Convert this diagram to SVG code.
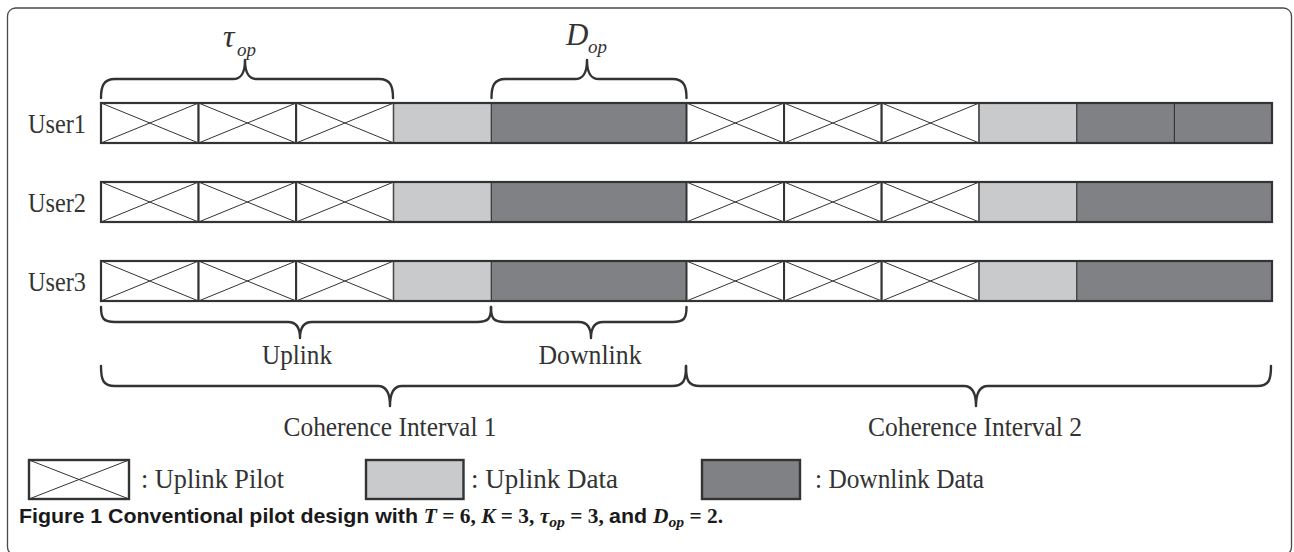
<svg xmlns="http://www.w3.org/2000/svg" xmlns:xlink="http://www.w3.org/1999/xlink" width="1294" height="552" viewBox="0 0 1294 552">
  <style>
    .frame { fill: #ffffff; stroke: #4a4a4a; stroke-width: 1.3; }
    .lbl { font-family: "Liberation Serif", "Times New Roman", serif; font-size: 27.5px; fill: #333333; }
    .math { font-family: "Liberation Serif", "Times New Roman", serif; font-style: italic; fill: #333333; }
    .cap { font-family: "Liberation Sans", Arial, sans-serif; font-weight: bold; font-size: 20.5px; fill: #1a1a1a; }
    .capm { font-family: "Liberation Serif", "Times New Roman", serif; font-weight: bold; }
    .brace { fill: none; stroke: #333333; stroke-width: 2.4; stroke-linecap: round; stroke-linejoin: round; }
    .pilot { fill: #ffffff; stroke: #333333; stroke-width: 2; }
    .xline { stroke: #333333; stroke-width: 1; }
    .ul { fill: #c9cacc; stroke: #444444; stroke-width: 1; }
    .dl { fill: #808184; stroke: #333333; stroke-width: 1; }
    .rowline { fill: none; stroke: #333333; stroke-width: 2.2; }
    .legbox { stroke: #333333; stroke-width: 2.4; }
  </style>
  <defs>
    <!-- one pilot slot: white cell crossed by two diagonals -->
    <g id="pilotCell">
      <rect class="pilot" x="0" y="0" width="97.58" height="40"/>
      <line class="xline" x1="0" y1="0" x2="97.58" y2="40"/>
      <line class="xline" x1="0" y1="40" x2="97.58" y2="0"/>
    </g>
  </defs>

  <rect class="frame" x="7.5" y="8" width="1284" height="547" rx="8"/>

  <!-- User1: pilots, uplink data, downlink x2 | pilots, uplink data, downlink, downlink -->
  <g id="user1">
    <text class="lbl" x="28" y="133" textLength="58" lengthAdjust="spacingAndGlyphs">User1</text>
    <use xlink:href="#pilotCell" x="101" y="103"/>
    <use xlink:href="#pilotCell" x="198.58" y="103"/>
    <use xlink:href="#pilotCell" x="296.17" y="103"/>
    <rect class="ul" x="393.75" y="103" width="97.58" height="40"/>
    <rect class="dl" x="491.33" y="103" width="195.17" height="40"/>
    <use xlink:href="#pilotCell" x="686.5" y="103"/>
    <use xlink:href="#pilotCell" x="784.08" y="103"/>
    <use xlink:href="#pilotCell" x="881.67" y="103"/>
    <rect class="ul" x="979.25" y="103" width="97.58" height="40"/>
    <rect class="dl" x="1076.83" y="103" width="97.58" height="40"/>
    <rect class="dl" x="1174.42" y="103" width="97.58" height="40"/>
    <rect class="rowline" x="101" y="103" width="1171" height="40"/>
  </g>

  <g id="user2">
    <text class="lbl" x="28" y="212" textLength="58" lengthAdjust="spacingAndGlyphs">User2</text>
    <use xlink:href="#pilotCell" x="101" y="182"/>
    <use xlink:href="#pilotCell" x="198.58" y="182"/>
    <use xlink:href="#pilotCell" x="296.17" y="182"/>
    <rect class="ul" x="393.75" y="182" width="97.58" height="40"/>
    <rect class="dl" x="491.33" y="182" width="195.17" height="40"/>
    <use xlink:href="#pilotCell" x="686.5" y="182"/>
    <use xlink:href="#pilotCell" x="784.08" y="182"/>
    <use xlink:href="#pilotCell" x="881.67" y="182"/>
    <rect class="ul" x="979.25" y="182" width="97.58" height="40"/>
    <rect class="dl" x="1076.83" y="182" width="195.17" height="40"/>
    <rect class="rowline" x="101" y="182" width="1171" height="40"/>
  </g>

  <g id="user3">
    <text class="lbl" x="28" y="291" textLength="58" lengthAdjust="spacingAndGlyphs">User3</text>
    <use xlink:href="#pilotCell" x="101" y="261"/>
    <use xlink:href="#pilotCell" x="198.58" y="261"/>
    <use xlink:href="#pilotCell" x="296.17" y="261"/>
    <rect class="ul" x="393.75" y="261" width="97.58" height="40"/>
    <rect class="dl" x="491.33" y="261" width="195.17" height="40"/>
    <use xlink:href="#pilotCell" x="686.5" y="261"/>
    <use xlink:href="#pilotCell" x="784.08" y="261"/>
    <use xlink:href="#pilotCell" x="881.67" y="261"/>
    <rect class="ul" x="979.25" y="261" width="97.58" height="40"/>
    <rect class="dl" x="1076.83" y="261" width="195.17" height="40"/>
    <rect class="rowline" x="101" y="261" width="1171" height="40"/>
  </g>

  <!-- braces -->
  <g id="braces">
    <!-- tau_op over the three pilot slots -->
    <path class="brace" d="M101,98 C101,87 103,79 115,79 L233,79 C240,79 245,75 245,60 C245,75 250,79 257,79 L379,79 C391,79 393,87 393,98"/>
    <!-- D_op over the downlink slots -->
    <path class="brace" d="M491.5,98 C491.5,87 493.5,79 505.5,79 L575,79 C582,79 587,75 587,60 C587,75 592,79 599,79 L672.5,79 C684.5,79 686.5,87 686.5,98"/>
    <!-- Uplink -->
    <path class="brace" d="M101,307 C101,318 103,322 115,322 L288,322 C295,322 300,326 300,338 C300,326 305,322 312,322 L477,322 C489,322 491,318 491,307"/>
    <!-- Downlink -->
    <path class="brace" d="M491,307 C491,318 493,322 505,322 L579,322 C586,322 591,326 591,338 C591,326 596,322 603,322 L672.5,322 C684.5,322 686.5,318 686.5,307"/>
    <!-- Coherence interval 1 -->
    <path class="brace" d="M101,366 C101,380 103,386 115,386 L378,386 C385,386 390,391 390,406 C390,391 395,386 402,386 L672,386 C684,386 686,380 686,366"/>
    <!-- Coherence interval 2 -->
    <path class="brace" d="M686,366 C686,380 688,386 700,386 L964,386 C971,386 976,391 976,406 C976,391 981,386 988,386 L1257,386 C1269,386 1271,380 1271,366"/>
  </g>

  <g id="brace-labels">
    <text class="math" x="223" y="47" font-size="32">τ</text>
    <text class="math" x="237" y="56" font-size="19">op</text>
    <text class="math" x="566" y="45" font-size="31">D</text>
    <text class="math" x="588" y="53" font-size="19">op</text>
    <text class="lbl" x="297" y="364" text-anchor="middle" textLength="70" lengthAdjust="spacingAndGlyphs">Uplink</text>
    <text class="lbl" x="590" y="364" text-anchor="middle" textLength="103" lengthAdjust="spacingAndGlyphs">Downlink</text>
    <text class="lbl" x="390" y="436" text-anchor="middle" textLength="213" lengthAdjust="spacingAndGlyphs">Coherence Interval 1</text>
    <text class="lbl" x="975" y="436" text-anchor="middle" textLength="214" lengthAdjust="spacingAndGlyphs">Coherence Interval 2</text>
  </g>

  <!-- legend -->
  <g id="legend-pilot">
    <rect class="legbox" x="29" y="460" width="100" height="39" fill="#ffffff"/>
    <line class="xline" x1="29" y1="460" x2="129" y2="499"/>
    <line class="xline" x1="29" y1="499" x2="129" y2="460"/>
    <text class="lbl" x="141" y="488" textLength="143" lengthAdjust="spacingAndGlyphs">: Uplink Pilot</text>
  </g>
  <g id="legend-uplink-data">
    <rect class="legbox" x="366" y="460" width="97.5" height="39" fill="#c9cacc"/>
    <text class="lbl" x="471" y="488" textLength="147" lengthAdjust="spacingAndGlyphs">: Uplink Data</text>
  </g>
  <g id="legend-downlink-data">
    <rect class="legbox" x="702" y="460" width="98" height="39" fill="#808184"/>
    <text class="lbl" x="815" y="488" textLength="169" lengthAdjust="spacingAndGlyphs">: Downlink Data</text>
  </g>

  <!-- caption -->
  <text class="cap" x="19" y="523" textLength="704" lengthAdjust="spacingAndGlyphs">Figure 1 Conventional pilot design with <tspan class="capm" font-style="italic">T</tspan><tspan class="capm"> = 6, </tspan><tspan class="capm" font-style="italic">K</tspan><tspan class="capm"> = 3, </tspan><tspan class="capm" font-style="italic">τ</tspan><tspan class="capm" font-style="italic" font-size="15" dy="4">op</tspan><tspan class="capm" dy="-4"> = 3, </tspan>and <tspan class="capm" font-style="italic">D</tspan><tspan class="capm" font-style="italic" font-size="15" dy="4">op</tspan><tspan class="capm" dy="-4"> = 2.</tspan></text>
</svg>
